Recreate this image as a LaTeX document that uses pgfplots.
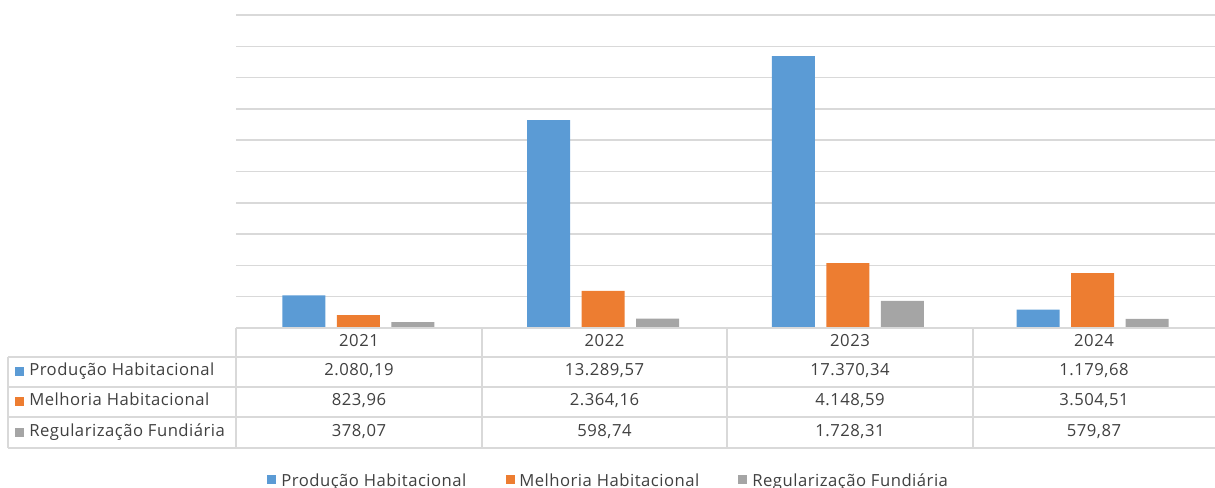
\documentclass[border=0pt]{standalone}
\usepackage{pgfplots}
\pgfplotsset{compat=1.18}
\usepackage{fontspec}
\setmainfont[LetterSpace=3]{Open Sans}
\definecolor{cblue}{HTML}{5B9BD5}
\definecolor{corange}{HTML}{ED7D31}
\definecolor{cgray}{HTML}{A5A5A5}
\definecolor{gridc}{HTML}{D9D9D9}
\definecolor{txt}{HTML}{404040}
\begin{document}
\begin{tikzpicture}[x=0.75pt,y=0.75pt,font=\fontsize{12.5pt}{14pt}\selectfont]
\useasboundingbox (0,0) rectangle (1215,488);
\begin{axis}[
  at={(177pt,120pt)}, anchor=south west,
  scale only axis, width=734.25pt, height=234.75pt,
  xmin=-0.5, xmax=3.5, ymin=0, ymax=20000,
  ytick={0,2000,...,20000}, yticklabels={},
  scaled y ticks=false,
  xtick=\empty,
  ymajorgrids, grid style={draw=gridc, line width=1.1pt},
  axis line style={draw=none},
  major tick length=0pt,
  bar width=32.25pt,
  clip=false,
]
\addplot[ybar, fill=cblue, draw=none, bar shift=-40.875pt] coordinates {(0,2080.19) (1,13289.57) (2,17370.34) (3,1179.68)};
\addplot[ybar, fill=corange, draw=none, bar shift=0pt] coordinates {(0,823.96) (1,2364.16) (2,4148.59) (3,3504.51)};
\addplot[ybar, fill=cgray, draw=none, bar shift=40.875pt] coordinates {(0,378.07) (1,598.74) (2,1728.31) (3,579.87)};
\end{axis}
% table grid
\begin{scope}[draw=gridc, line width=1.1pt]
\draw (236,160) -- (1215,160);
\foreach \yy in {131,101,71,40} \draw (8,\yy) -- (1215,\yy);
\draw (8,131) -- (8,40);
\foreach \xx in {236,482,727,973} \draw (\xx,160) -- (\xx,40);
\end{scope}
\begin{scope}[every node/.style={text=txt, inner sep=0pt}]
% header
\node[anchor=mid] at (359,145.5) {2021};
\node[anchor=mid] at (604.5,145.5) {2022};
\node[anchor=mid] at (850,145.5) {2023};
\node[anchor=mid] at (1094,145.5) {2024};
% row labels
\fill[cblue] (15,111.5) rectangle (24,120.5);
\fill[corange] (15,81.5) rectangle (24,90.5);
\fill[cgray] (15,51) rectangle (24,60);
\node[anchor=mid west] at (29,116) {Produção Habitacional};
\node[anchor=mid west] at (29,86) {Melhoria Habitacional};
\node[anchor=mid west] at (29,55.5) {Regularização Fundiária};
% values
\node[anchor=mid] at (359,116) {2.080,19};
\node[anchor=mid] at (604.5,116) {13.289,57};
\node[anchor=mid] at (850,116) {17.370,34};
\node[anchor=mid] at (1094,116) {1.179,68};
\node[anchor=mid] at (359,86) {823,96};
\node[anchor=mid] at (604.5,86) {2.364,16};
\node[anchor=mid] at (850,86) {4.148,59};
\node[anchor=mid] at (1094,86) {3.504,51};
\node[anchor=mid] at (359,55.5) {378,07};
\node[anchor=mid] at (604.5,55.5) {598,74};
\node[anchor=mid] at (850,55.5) {1.728,31};
\node[anchor=mid] at (1094,55.5) {579,87};
% legend
\fill[cblue] (267,4) rectangle (276,13);
\fill[corange] (506,4) rectangle (515,13);
\fill[cgray] (738,4) rectangle (747,13);
\node[anchor=base west] at (281,1) {Produção Habitacional};
\node[anchor=base west] at (519,1) {Melhoria Habitacional};
\node[anchor=base west] at (752,1) {Regularização Fundiária};
\end{scope}
\end{tikzpicture}
\end{document}
